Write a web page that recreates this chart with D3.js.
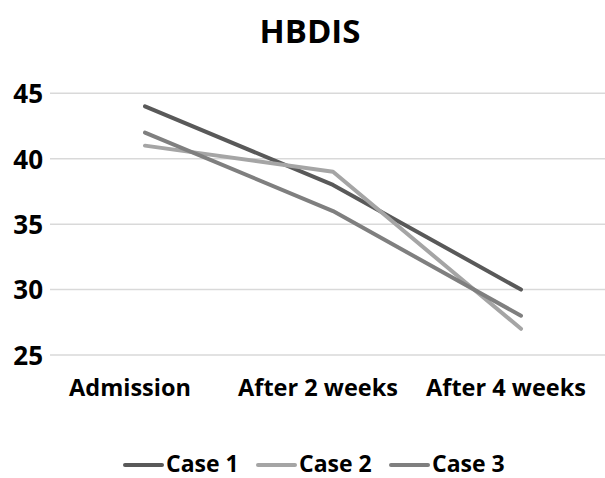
<!DOCTYPE html>
<html>
<head>
<meta charset="utf-8">
<script src="https://cdn.jsdelivr.net/npm/d3@7"></script>
<style>
  body { margin: 0; background: #fff; }
  text { font-family: "Open Sans", sans-serif; font-weight: bold; fill: #000; }
</style>
</head>
<body>
<svg id="chart" width="605" height="478"></svg>
<script>
// HBDIS scores per case over the follow-up visits
const categories = ["Admission", "After 2 weeks", "After 4 weeks"];
const seriesNames = ["Case 1", "Case 2", "Case 3"];
const case1 = [44, 38, 30];
const case2 = [41, 39, 27];
const case3 = [42, 36, 28];
const yTicks = [25, 30, 35, 40, 45];
const colors = ["#595959", "#a5a5a5", "#7f7f7f"];

const series = [case1, case2, case3].map((values, i) => ({
  name: seriesNames[i], values, color: colors[i]
}));

const svg = d3.select("#chart");

const x = d3.scaleBand().domain(categories).range([51, 615]);
const y = d3.scaleLinear().domain([25, 45]).range([355, 93.3]);
const cx = d => x(d) + x.bandwidth() / 2;

// title
svg.append("text")
  .attr("x", 310).attr("y", 43)
  .attr("text-anchor", "middle")
  .style("font-size", "33px")
  .text("HBDIS");

// horizontal gridlines
svg.append("g").selectAll("line").data(yTicks).join("line")
  .attr("x1", 50).attr("x2", 605)
  .attr("y1", d => y(d)).attr("y2", d => y(d))
  .attr("stroke", "#d9d9d9").attr("stroke-width", 1.5);

// y-axis labels
const yAxis = d3.axisLeft(y).tickValues(yTicks).tickSize(0).tickPadding(7);
const gy = svg.append("g").attr("transform", "translate(50,0)").call(yAxis);
gy.select(".domain").remove();
gy.selectAll("text").style("font-size", "26px").attr("dy", "0.36em")
  .style("font-family", '"Open Sans", sans-serif').attr("fill", "#000");

// x-axis labels
svg.append("g").selectAll("text").data(categories).join("text")
  .attr("x", d => cx(d) - 15).attr("y", 396)
  .attr("text-anchor", "middle")
  .style("font-size", "23.5px")
  .text(d => d);

// series lines
const line = d3.line()
  .x((v, i) => cx(categories[i]))
  .y(v => y(v));

svg.append("g").selectAll("path").data(series).join("path")
  .attr("d", d => line(d.values))
  .attr("fill", "none")
  .attr("stroke", d => d.color)
  .attr("stroke-width", 4)
  .attr("stroke-linecap", "round")
  .attr("stroke-linejoin", "round");

// legend
const legendX = [125, 258, 391];
const lg = svg.append("g").selectAll("g").data(series).join("g")
  .attr("transform", (d, i) => `translate(${legendX[i]},465)`);
lg.append("line")
  .attr("x1", 0).attr("x2", 37)
  .attr("stroke", d => d.color).attr("stroke-width", 4)
  .attr("stroke-linecap", "round");
lg.append("text")
  .attr("x", 41).attr("y", 7)
  .style("font-size", "23px")
  .text(d => d.name);
</script>
</body>
</html>
